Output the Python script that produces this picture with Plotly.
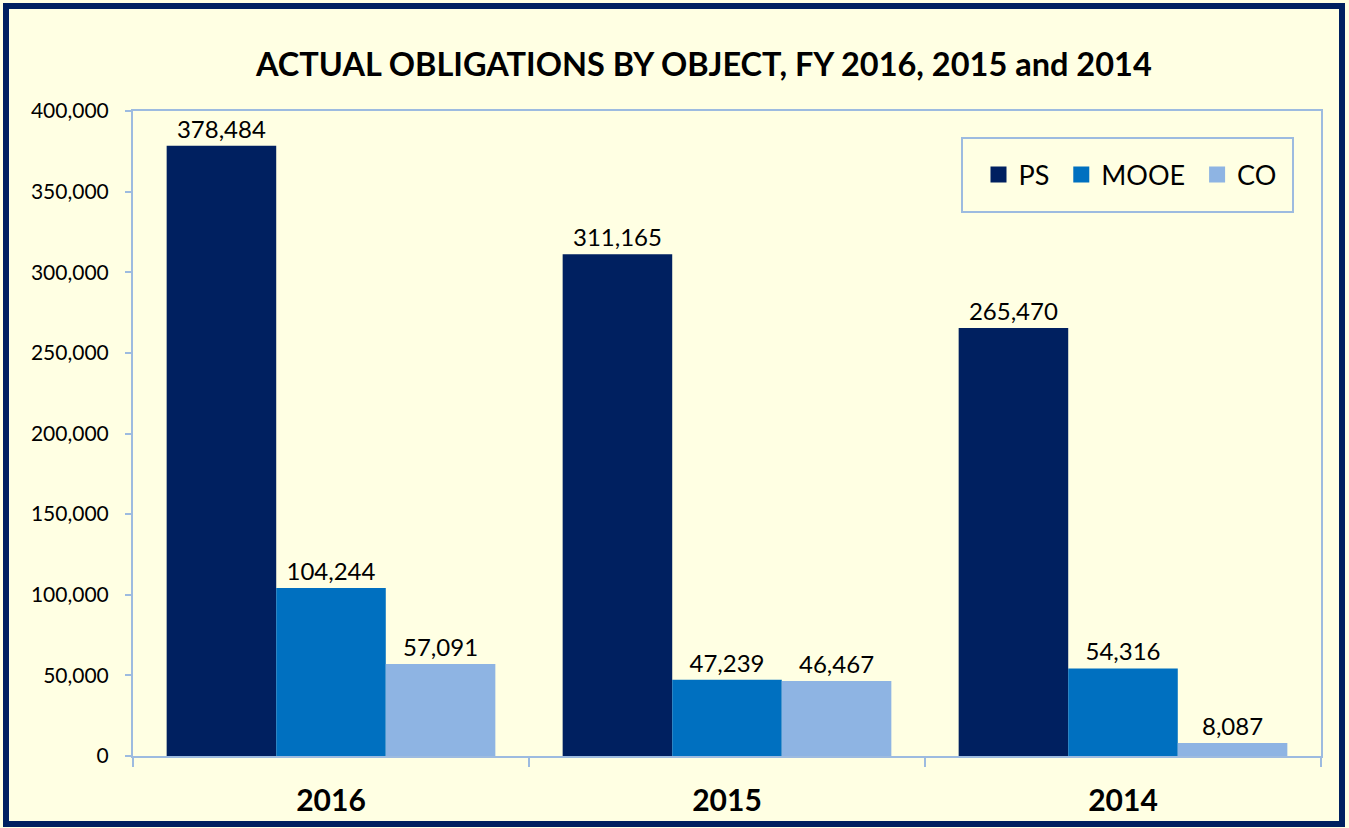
import plotly.graph_objects as go

years = ["2016", "2015", "2014"]
series_names = ["PS", "MOOE", "CO"]
ps = [378484, 311165, 265470]
mooe = [104244, 47239, 54316]
co = [57091, 46467, 8087]
colors = ["#002060", "#0070C0", "#8EB4E3"]
y_ticks = [0, 50000, 100000, 150000, 200000, 250000, 300000, 350000, 400000]

FONT = "Lato"
W, H = 1349, 828
L, R, T, B = 133, 28, 111, 72
pw, ph = W - L - R, H - T - B

def px_x(x):
    return (x - L) / pw

def px_y(y):
    return (H - B - y) / ph

fig = go.Figure()
for name, vals, col in zip(series_names, [ps, mooe, co], colors):
    fig.add_trace(go.Bar(
        name=name, x=years, y=vals, marker=dict(color=col, line=dict(width=0)),
        text=[f"{v:,}" for v in vals], textposition="outside",
        textfont=dict(family=FONT, size=24, color="#000000"),
        cliponaxis=False, showlegend=False,
    ))
# legend-only entries with larger square swatches
legend_labels = ["PS&nbsp;", "MOOE&nbsp;", "CO"]
for name, col in zip(legend_labels, colors):
    fig.add_trace(go.Scatter(
        name=name, x=[None], y=[None], mode="markers",
        marker=dict(symbol="square", size=17, color=col), showlegend=True,
    ))

axis_col = "#9DBBE0"
fig.update_layout(
    width=W, height=H,
    margin=dict(l=L, r=R, t=T, b=B),
    paper_bgcolor="#FFFFE3", plot_bgcolor="#FFFFE3",
    barmode="group", bargap=0.17, bargroupgap=0,
    font=dict(family=FONT, color="#000000"),
    showlegend=True,
    legend=dict(orientation="h", x=px_x(1130), y=px_y(175), xanchor="center", yanchor="middle",
                font=dict(family=FONT, size=27, color="#000000"), bgcolor="rgba(0,0,0,0)",
                itemwidth=30, traceorder="normal"),
    xaxis=dict(showline=True, linecolor=axis_col, linewidth=2, mirror=True,
               ticks="outside", tickson="boundaries", ticklen=9, tickcolor=axis_col, tickwidth=2,
               tickfont=dict(family=FONT, size=30, color="#000000", weight="bold"),
               ticklabelstandoff=17, showgrid=False),
    yaxis=dict(range=[0, 400000], tickvals=y_ticks, tickformat=",", showline=True,
               linecolor=axis_col, linewidth=2, mirror=True, ticks="outside", ticklen=6,
               tickcolor=axis_col, tickwidth=2, showgrid=False, zeroline=False,
               tickfont=dict(family=FONT, size=21, color="#000000"), ticklabelstandoff=12),
    annotations=[dict(text="<b>ACTUAL OBLIGATIONS BY OBJECT, FY 2016, 2015 and 2014</b>",
                      xref="paper", yref="paper", x=px_x(703), y=px_y(63),
                      xanchor="center", yanchor="middle", showarrow=False,
                      font=dict(family=FONT, size=32.5, color="#000000"))],
    shapes=[
        dict(type="rect", xref="paper", yref="paper", x0=px_x(962), x1=px_x(1293),
             y0=px_y(212), y1=px_y(138), line=dict(color=axis_col, width=2)),
        dict(type="rect", xref="paper", yref="paper", x0=px_x(6), x1=px_x(1342),
             y0=px_y(824), y1=px_y(6), line=dict(color="#002060", width=6)),
    ],
)
fig.write_html("out.html", config={"displayModeBar": False},
               post_script="document.body.style.margin='0';")
